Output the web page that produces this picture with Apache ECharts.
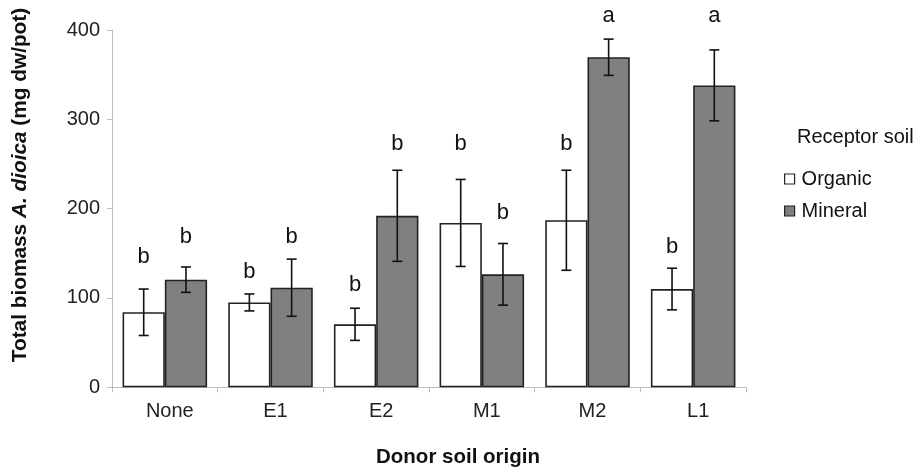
<!DOCTYPE html>
<html>
<head>
<meta charset="utf-8">
<script src="https://cdn.jsdelivr.net/npm/echarts@6/dist/echarts.min.js"></script>
<style>
html,body{margin:0;padding:0;background:#fff;}
#chart{width:917px;height:469px;}
</style>
</head>
<body>
<div id="chart"></div>
<script>
var categories = ['None', 'E1', 'E2', 'M1', 'M2', 'L1'];
var organic = [84, 95, 70.5, 184, 187, 110];
var organicErr = [26, 9.5, 18, 48.7, 56, 23.3];
var mineral = [120.5, 111.5, 192, 126.5, 369.5, 338];
var mineralErr = [14.2, 32, 51, 34.5, 20.3, 39.7];
var organicLetters = ['b', 'b', 'b', 'b', 'b', 'b'];
var mineralLetters = ['b', 'b', 'b', 'b', 'a', 'a'];
var organicLetterPos = [146, 129, 115, 272, 272, 157];
var mineralLetterPos = [168, 168, 272, 195, 416, 416];
var yTicks = [0, 100, 200, 300, 400];

var FONT = '"Liberation Sans", Arial, Helvetica, sans-serif';

var errData = [];
categories.forEach(function (c, i) {
  errData.push([i, organic[i], organicErr[i], 0, organicLetterPos[i], organicLetters[i]]);
  errData.push([i, mineral[i], mineralErr[i], 1, mineralLetterPos[i], mineralLetters[i]]);
});

function renderErr(params, api) {
  var idx = api.value(0);
  var mean = api.value(1);
  var err = api.value(2);
  var s = api.value(3);
  var lpos = api.value(4);
  var letter = errData[params.dataIndex][5];
  var band = api.size([1, 0])[0];
  var cx = api.coord([idx, mean])[0] + (s === 0 ? -1 : 1) * band * 0.2;
  var yT = api.coord([idx, mean + err])[1];
  var yB = api.coord([idx, mean - err])[1];
  var yL = api.coord([idx, lpos])[1];
  var cap = 5;
  var ls = { stroke: '#111', lineWidth: 1.6 };
  return {
    type: 'group',
    children: [
      { type: 'line', shape: { x1: cx, y1: yT, x2: cx, y2: yB }, style: ls },
      { type: 'line', shape: { x1: cx - cap, y1: yT, x2: cx + cap, y2: yT }, style: ls },
      { type: 'line', shape: { x1: cx - cap, y1: yB, x2: cx + cap, y2: yB }, style: ls },
      { type: 'text', x: cx, y: yL, style: { text: letter, fill: '#111', font: '22px ' + FONT, align: 'center', verticalAlign: 'middle' } }
    ]
  };
}

var chart = echarts.init(document.getElementById('chart'));
chart.setOption({
  animation: false,
  backgroundColor: '#fff',
  grid: { left: 112, right: 171, top: 30, bottom: 81.7, containLabel: false },
  legend: {
    orient: 'vertical',
    left: 784,
    top: 169,
    padding: 0,
    itemWidth: 10,
    itemHeight: 10,
    itemGap: 12,
    icon: 'rect',
    textStyle: { fontSize: 20, fontFamily: FONT, color: '#111', padding: [0, 0, 0, 2] },
    data: [
      { name: 'Organic', itemStyle: { color: '#fff', borderColor: '#222', borderWidth: 1.2 } },
      { name: 'Mineral', itemStyle: { color: '#808080', borderColor: '#222', borderWidth: 1.2 } }
    ]
  },
  graphic: [
    {
      type: 'text', x: 20, y: 185, rotation: Math.PI / 2,
      style: {
        text: '{b|Total biomass }{bi|A. dioica}{b| (mg dw/pot)}',
        align: 'center', verticalAlign: 'middle',
        rich: {
          b: { fontSize: 20.8, fontWeight: 'bold', fontFamily: FONT, fill: '#111' },
          bi: { fontSize: 20.8, fontWeight: 'bold', fontStyle: 'italic', fontFamily: FONT, fill: '#111' }
        }
      }
    },
    {
      type: 'text', x: 458, y: 457,
      style: { text: 'Donor soil origin', font: 'bold 20.5px ' + FONT, fill: '#111', align: 'center', verticalAlign: 'middle' }
    },
    {
      type: 'text', x: 797, y: 137.5,
      style: { text: 'Receptor soil', font: '20px ' + FONT, fill: '#111', align: 'left', verticalAlign: 'middle' }
    }
  ],
  xAxis: {
    type: 'category',
    data: categories,
    axisLine: { lineStyle: { color: '#bdbdbd', width: 1 } },
    axisTick: { show: true, length: 5, lineStyle: { color: '#bdbdbd' } },
    axisLabel: { fontSize: 20, fontFamily: FONT, color: '#222', margin: 14, padding: [0, 0, 0, 10] }
  },
  yAxis: {
    type: 'value',
    min: yTicks[0],
    max: yTicks[yTicks.length - 1],
    interval: 100,
    axisLine: { show: true, lineStyle: { color: '#bdbdbd', width: 1 } },
    axisTick: { show: true, length: 5, lineStyle: { color: '#bdbdbd' } },
    splitLine: { show: false },
    axisLabel: { fontSize: 20, fontFamily: FONT, color: '#222', margin: 12 }
  },
  series: [
    {
      name: 'Organic', type: 'bar', data: organic,
      barCategoryGap: '20%', barGap: '0%',
      itemStyle: { color: '#ffffff', borderColor: '#222', borderWidth: 1.6 }
    },
    {
      name: 'Mineral', type: 'bar', data: mineral,
      barCategoryGap: '20%', barGap: '0%',
      itemStyle: { color: '#808080', borderColor: '#222', borderWidth: 1.6 }
    },
    {
      type: 'custom', data: errData, renderItem: renderErr, clip: false, z: 10,
      encode: { x: 0, y: 1 }
    }
  ]
});
</script>
</body>
</html>
